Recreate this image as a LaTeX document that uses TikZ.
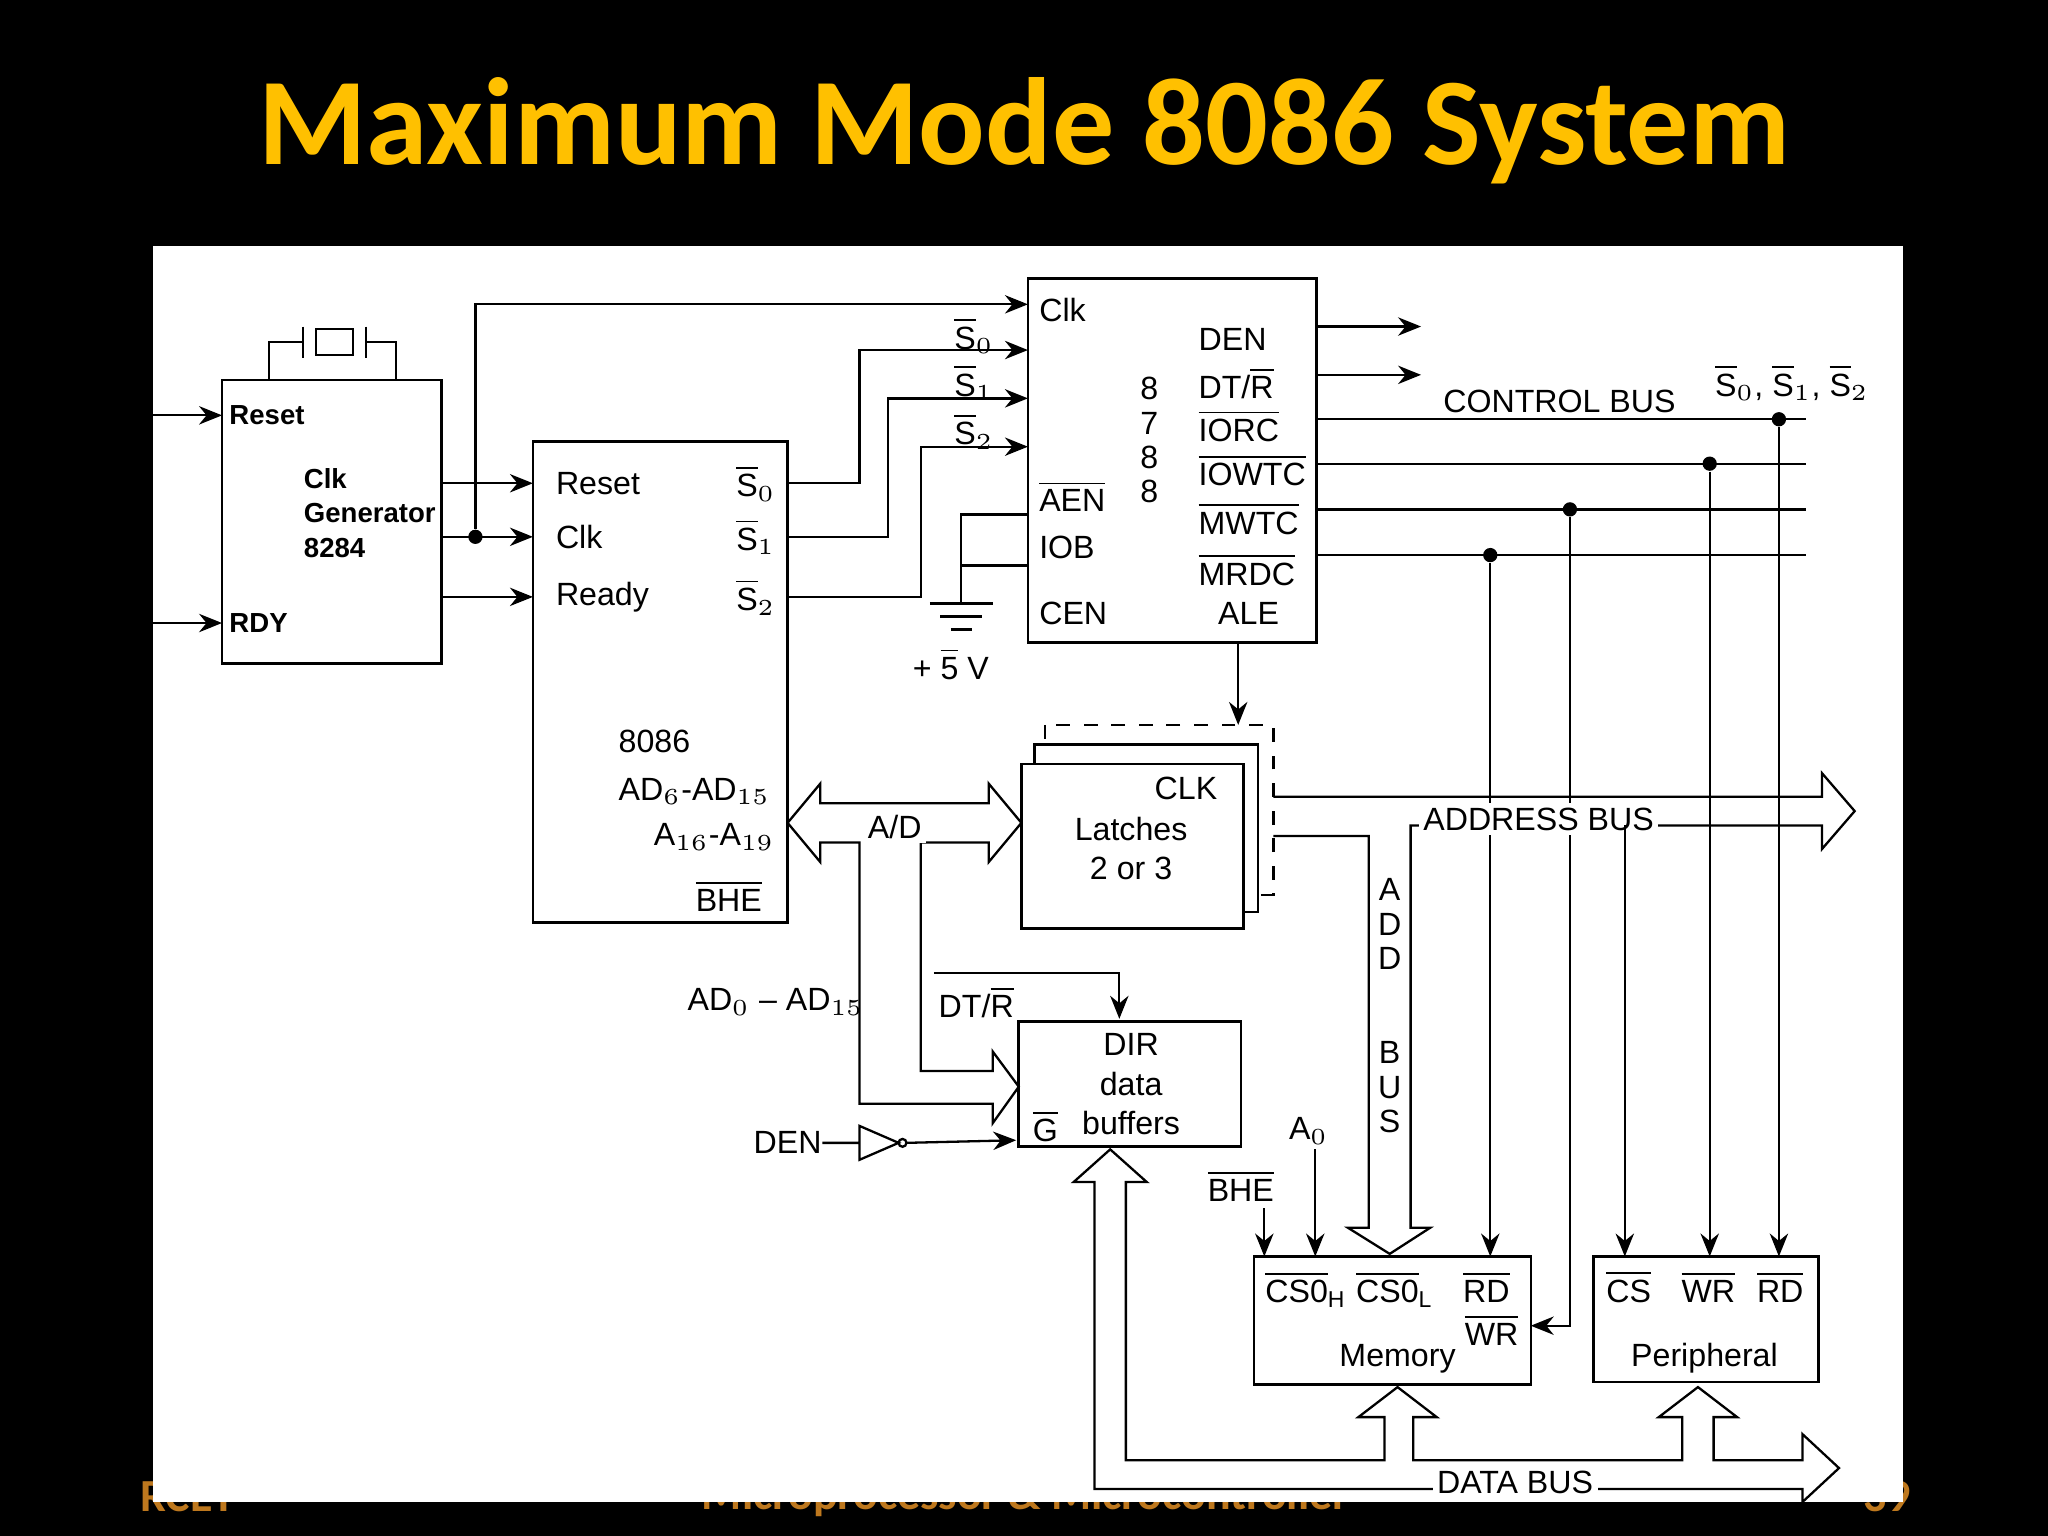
\documentclass[tikz,border=0pt]{standalone}
\usepackage{fontspec}
\setmainfont{Liberation Sans}
\newfontfamily\titlefont{Carlito}
\usetikzlibrary{arrows.meta}
\definecolor{ttl}{RGB}{255,192,0}
\definecolor{ftr}{RGB}{190,120,30}
\newcommand{\ob}[1]{$\overline{\hbox{#1}}$}
\begin{document}
\begin{tikzpicture}[x=0.01cm,y=-0.01cm,
  lbl/.style={inner sep=0pt,anchor=west,font=\fontsize{7}{8.5}\selectfont},
  cl/.style={inner sep=0pt,font=\fontsize{7}{8.5}\selectfont},
  bl/.style={inner sep=0pt,anchor=west,font=\fontsize{6}{7.5}\selectfont\bfseries},
  bx/.style={draw,line width=0.6pt,inner sep=0pt,outer sep=0pt,anchor=north west},
  ln/.style={line width=0.5pt},
  ar/.style={ln,-{Stealth[length=5pt,width=4pt]}},
  dot/.style={circle,fill,inner sep=1.1pt}]
\useasboundingbox (0,0) rectangle (1568,1176);
\fill[black] (0,0) rectangle (1568,1176);
\node[font=\titlefont\fontsize{27}{30}\selectfont\bfseries,text=ttl] (title) at (784,100) {Maximum Mode 8086 System};
\begin{scope}[font=\titlefont\bfseries\fontsize{10}{12}\selectfont,text=ftr]
\node[anchor=west] (f1) at (95,1146) {RCET};
\node (f2) at (785,1146) {Microprocessor \& Microcontroller};
\node[anchor=east] (f3) at (1475,1146) {39};
\end{scope}
\fill[white] (117,188) rectangle (1457,1150);
% clock generator
\node[bx,minimum width=1.68cm,minimum height=2.17cm] (cg) at (170,291) {};
\node[bl] (cgr) at (175,318) {Reset};
\node[bl,align=left,anchor=north west] (cgt) at (232,358) {Clk\\Generator\\8284};
\node[bl] (cgd) at (175,477) {RDY};
\coordinate (i1) at (117,318); \coordinate (i2) at (117,477);
\draw[ar] (i1) -- (170,318); \draw[ar] (i2) -- (170,477);
% crystal
\draw[ln] (206,291) -- (206,262) -- (232,262) (232,250) -- (232,274);
\draw[ln] (242,252) rectangle (270,272);
\draw[ln] (280,250) -- (280,274) (280,262) -- (303,262) -- (303,291);
% 8086
\node[bx,minimum width=1.95cm,minimum height=3.68cm] (cpu) at (408,338) {};
\node[lbl] at (425,370) {Reset}; \node[lbl] at (425,411) {Clk}; \node[lbl] at (425,457) {Ready};
\node[lbl] at (563,370) {\ob{S}$_0$}; \node[lbl] at (563,411) {\ob{S}$_1$}; \node[lbl] at (563,457) {\ob{S}$_2$};
\node[lbl] at (473,568) {8086}; \node[lbl] at (473,606) {AD$_6$-AD$_{15}$};
\node[lbl] at (500,641) {A$_{16}$-A$_{19}$}; \node[lbl] at (532,686) {\ob{BHE}};
\draw[ar] (338,370) -- (408,370); \draw[ar] (338,411) -- (408,411); \draw[ar] (338,457) -- (408,457);
\node[dot] (d0) at (364,411) {};
% 8288
\node[bx,minimum width=2.21cm,minimum height=2.79cm] (bc) at (787,213) {};
\draw[ar] (d0) -- (364,233) -- (787,233);
\node[lbl] at (795,237) {Clk}; \node[lbl] at (795,380) {\ob{AEN}};
\node[lbl] at (795,419) {IOB}; \node[lbl] at (795,470) {CEN};
\node[cl,align=center] at (880,337) {8\\[-1pt]7\\[-1pt]8\\[-1pt]8};
\node[lbl] at (917,260) {DEN}; \node[lbl] at (917,293) {DT/\ob{R}};
\node[lbl] at (917,326) {\ob{IORC}}; \node[lbl] at (917,360) {\ob{IOWTC}};
\node[lbl] at (917,397) {\ob{MWTC}}; \node[lbl] at (917,436) {\ob{MRDC}};
\node[lbl] at (932,470) {ALE};
\node[lbl] at (730,257) {\ob{S}$_0$}; \node[lbl] at (730,293) {\ob{S}$_1$}; \node[lbl] at (730,330) {\ob{S}$_2$};
\draw[ar] (603,370) -- (658,370) -- (658,268) -- (787,268);
\draw[ar] (603,411) -- (680,411) -- (680,305) -- (787,305);
\draw[ar] (603,457) -- (705,457) -- (705,342) -- (787,342);
\draw[ln] (787,394) -- (736,394) -- (736,462) (787,433) -- (736,433);
\draw[ln] (712,462) -- (760,462) (720,472) -- (752,472) (728,482) -- (744,482);
\node[cl] at (728,508) {+ \ob{5} V};
% outputs
\draw[ar] (1008,250) -- (1088,250); \draw[ar] (1008,287) -- (1088,287);
\draw[ln] (1008,321) -- (1383,321) (1008,355) -- (1383,355) (1008,390) -- (1383,390) (1008,425) -- (1383,425);
\node[cl] at (1194,307) {CONTROL BUS};
\node[cl] at (1372,293) {\ob{S}$_0$, \ob{S}$_1$, \ob{S}$_2$};
% memory & peripheral
\node[bx,minimum width=2.12cm,minimum height=0.98cm] (mem) at (960,962) {};
\node[bx,minimum width=1.72cm,minimum height=0.96cm] (per) at (1220,962) {};
\node[cl] at (1000,987) {\ob{CS0}$_\mathrm{H}$}; \node[cl] at (1068,987) {\ob{CS0}$_\mathrm{L}$};
\node[cl] at (1138,985) {\ob{RD}}; \node[cl] at (1142,1018) {\ob{WR}};
\node[cl] at (1070,1040) {Memory};
\node[cl] at (1247,985) {\ob{CS}}; \node[cl] at (1308,985) {\ob{WR}}; \node[cl] at (1363,985) {\ob{RD}};
\node[cl] at (1305,1040) {Peripheral};
\node[dot] (c1) at (1362,321) {}; \node[dot] (c2) at (1309,355) {};
\node[dot] (c3) at (1202,390) {}; \node[dot] (c4) at (1141,425) {};
\draw[ar] (c1) -- (1362,962); \draw[ar] (c2) -- (1309,962);
\draw[ar] (c3) -- (1202,1015) -- (1172,1015); \draw[ar] (c4) -- (1141,962);
% latches
\draw[ln,dashed] (800,555) rectangle (975,685);
\draw[ln,fill=white] (792,570) rectangle (963,698);
\node[bx,fill=white,minimum width=1.70cm,minimum height=1.26cm] (lat) at (782,585) {};
\draw[ar] (948,492) -- (948,555);
\node[cl] at (908,604) {CLK};
\node[cl,align=center] at (866,650) {Latches\\2 or 3};
% address bus
\draw[ln] (975,610) -- (1395,610) -- (1395,592) -- (1420,621) -- (1395,650) -- (1395,632) -- (1080,632) -- (1080,940) -- (1095,940) -- (1064,960) -- (1032,940) -- (1048,940) -- (1048,640) -- (975,640);
\node[cl,fill=white,inner sep=1pt] at (1178,627) {ADDRESS BUS};
\node[cl,align=center] at (1064,770) {A\\[-1pt]D\\[-1pt]D\\[12pt]B\\[-1pt]U\\[-1pt]S};
\draw[ar] (1244,632) -- (1244,962);
% A/D double arrow
\draw[ln] (628,615) -- (757,615) -- (757,600) -- (782,630) -- (757,660) -- (757,645) -- (705,645) -- (705,820) -- (760,820) -- (760,805) -- (780,832) -- (760,860) -- (760,845) -- (658,845) -- (658,645) -- (628,645) -- (628,660) -- (603,630) -- (628,600) -- cycle;
\node[cl,fill=white,inner sep=1pt] at (685,633) {A/D};
\node[cl] at (594,767) {AD$_0$ -- AD$_{15}$};
% data buffers
\node[bx,minimum width=1.70cm,minimum height=0.96cm] (buf) at (780,782) {};
\node[cl] at (866,800) {DIR}; \node[cl,align=center] at (866,845) {data\\buffers};
\node[lbl] at (790,862) {\ob{G}};
\draw[ar] (715,745) -- (857,745) -- (857,780);
\node[lbl] at (718,767) {DT/\ob{R}};
\node[cl] (den) at (603,875) {DEN};
\draw[ln] (den.east) -- (658,875) (658,862) -- (688,875) -- (658,888) -- cycle;
\draw[ln] (691,875) circle (3);
\draw[ar] (694,875) -- (778,873);
% BHE, A0
\node[cl] at (950,908) {\ob{BHE}}; \draw[ar] (968,925) -- (968,962);
\node[cl] at (1002,866) {A$_0$}; \draw[ar] (1007,880) -- (1007,962);
% data bus
\draw[ln] (850,880) -- (878,905) -- (862,905) -- (862,1118) -- (1060,1118) -- (1060,1085) -- (1040,1085) -- (1070,1062) -- (1100,1085) -- (1082,1085) -- (1082,1118) -- (1288,1118) -- (1288,1085) -- (1270,1085) -- (1300,1062) -- (1330,1085) -- (1312,1085) -- (1312,1118) -- (1380,1118) -- (1380,1098) -- (1408,1124) -- (1380,1150) -- (1380,1140) -- (838,1140) -- (838,905) -- (822,905) -- cycle;
\node[cl,fill=white,inner sep=1pt] at (1160,1135) {DATA BUS};
\end{tikzpicture}
\end{document}
